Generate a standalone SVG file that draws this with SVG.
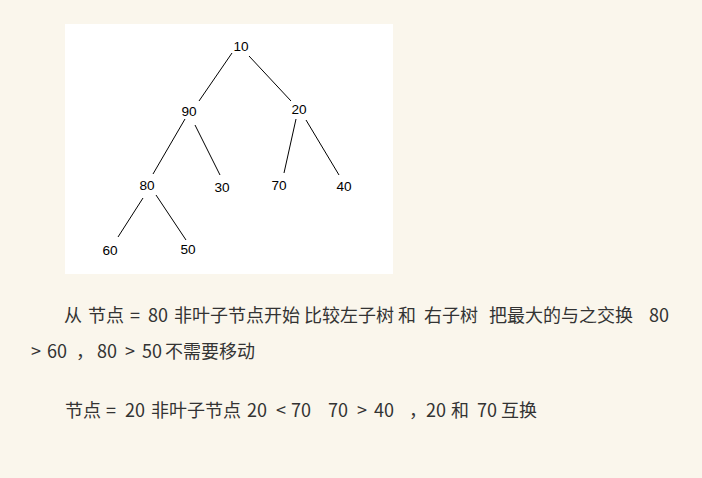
<svg xmlns="http://www.w3.org/2000/svg" width="702" height="478" viewBox="0 0 702 478">
<style>
.n{font-family:"Liberation Sans","DejaVu Sans",sans-serif;font-size:13.6px;fill:#000;text-anchor:middle}
.e line{stroke:#000;stroke-width:1}
.t{font-family:"Noto Sans CJK SC","Noto Sans",sans-serif;font-size:18px;fill:#333}
</style>
<rect x="0" y="0" width="702" height="478" fill="#faf6ec"/>
<rect x="65" y="24" width="328" height="250" fill="#ffffff"/>
<g class="e" id="connectors">
<line x1="232" y1="53" x2="199" y2="101"/>
<line x1="249" y1="56" x2="291" y2="101"/>
<line x1="185" y1="119" x2="153" y2="174"/>
<line x1="195" y1="125" x2="220" y2="175"/>
<line x1="296" y1="119" x2="284" y2="173"/>
<line x1="306" y1="120" x2="339" y2="175"/>
<line x1="143" y1="198" x2="118" y2="237"/>
<line x1="156" y1="195" x2="186" y2="240"/>
</g>
<g id="n10"><text class="n" x="241" y="51">10</text></g>
<g id="n90"><text class="n" x="189" y="116">90</text></g>
<g id="n20"><text class="n" x="299" y="114">20</text></g>
<g id="n80"><text class="n" x="147" y="190">80</text></g>
<g id="n30"><text class="n" x="222" y="192">30</text></g>
<g id="n70"><text class="n" x="279" y="190">70</text></g>
<g id="n40"><text class="n" x="344" y="191">40</text></g>
<g id="n60"><text class="n" x="110" y="255">60</text></g>
<g id="n50"><text class="n" x="188" y="254">50</text></g>
<text class="t" y="322"><tspan x="64">从</tspan><tspan x="88">节点</tspan><tspan x="130">=</tspan><tspan x="148">80</tspan><tspan x="174">非叶子节点开始</tspan><tspan x="304">比较左子树</tspan><tspan x="398">和</tspan><tspan x="424">右子树</tspan><tspan x="489">把最大的与之交换</tspan><tspan x="649">80</tspan></text>
<text class="t" y="358"><tspan x="31">&gt;</tspan><tspan x="47">60</tspan><tspan x="76">，</tspan><tspan x="97">80</tspan><tspan x="125">&gt;</tspan><tspan x="142">50</tspan><tspan x="165">不需要移动</tspan></text>
<text class="t" y="417"><tspan x="65">节点</tspan><tspan x="106">=</tspan><tspan x="125">20</tspan><tspan x="151">非叶子节点</tspan><tspan x="247">20</tspan><tspan x="276">&lt;</tspan><tspan x="291">70</tspan><tspan x="328">70</tspan><tspan x="357">&gt;</tspan><tspan x="374">40</tspan><tspan x="409">，</tspan><tspan x="426">20</tspan><tspan x="451">和</tspan><tspan x="477">70</tspan><tspan x="501">互换</tspan></text>
</svg>
